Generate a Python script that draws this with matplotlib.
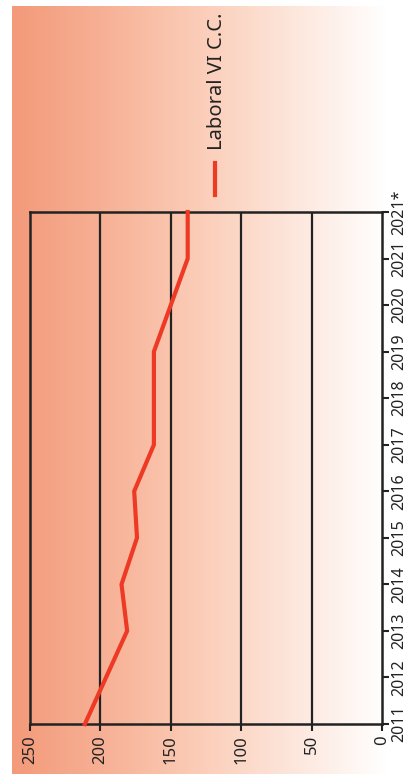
import matplotlib
matplotlib.use("Agg")
import matplotlib.pyplot as plt
import numpy as np
from matplotlib.lines import Line2D
from matplotlib.colors import LinearSegmentedColormap

plt.rcParams['font.family'] = ['Noto Sans', 'DejaVu Sans']

years = ["2011", "2012", "2013", "2014", "2015", "2016", "2017", "2018", "2019", "2020", "2021", "2021*"]
values = [211, 196, 181, 185, 174, 176, 162, 162, 162, 150, 138, 138]
value_ticks = [0, 50, 100, 150, 200, 250]
series_name = "Laboral VI C.C."

W, H = 407, 774
fig = plt.figure(figsize=(W / 100, H / 100), dpi=100)

# gradient background
bg = fig.add_axes([12 / W, 0, (386 - 12) / W, (H - 6) / H])
cmap = LinearSegmentedColormap.from_list("g", ["#F39A7A", "#F7B196", "#FBCDB8", "#FDE6DB", "#FFFFFF"])
grad = np.linspace(0, 1, 256).reshape(1, -1)
bg.imshow(grad, aspect="auto", cmap=cmap, extent=[0, 1, 0, 1])
bg.set_axis_off()

ax = fig.add_axes([30 / W, (H - 724) / H, 352 / W, 512 / H])
ax.patch.set_alpha(0)
pos = np.arange(len(years))
ax.plot(values, pos, color="#EE3A24", lw=3.0, solid_joinstyle="miter", clip_on=False, zorder=3)

ax.set_xlim(250, 0)
ax.set_ylim(0, len(years) - 1)
ax.set_xticks(value_ticks)
ax.set_xticklabels([str(v) for v in value_ticks], rotation=90, fontsize=12, color="#222222")
ax.set_yticks(pos)
ax.set_yticklabels(years, rotation=90, fontsize=11.5, color="#222222", va="center")
ax.yaxis.tick_right()
ax.tick_params(axis="x", length=5, width=1.5, color="#222222", pad=3)
ax.tick_params(axis="y", length=5, width=1.5, color="#222222", pad=2)
for v in value_ticks[1:-1]:
    ax.axvline(v, color="#222222", lw=1.6, zorder=2)
for s in ax.spines.values():
    s.set_color("#222222")
    s.set_linewidth(1.8)

# legend
fig.add_artist(Line2D([215 / W, 215 / W], [1 - 195 / H, 1 - 163 / H], color="#EE3A24", lw=3.0))
fig.text(217 / W, 1 - 150 / H, series_name, rotation=90, fontsize=14.5, color="#222222",
         ha="center", va="bottom")

fig.savefig("out.png", dpi=100)
